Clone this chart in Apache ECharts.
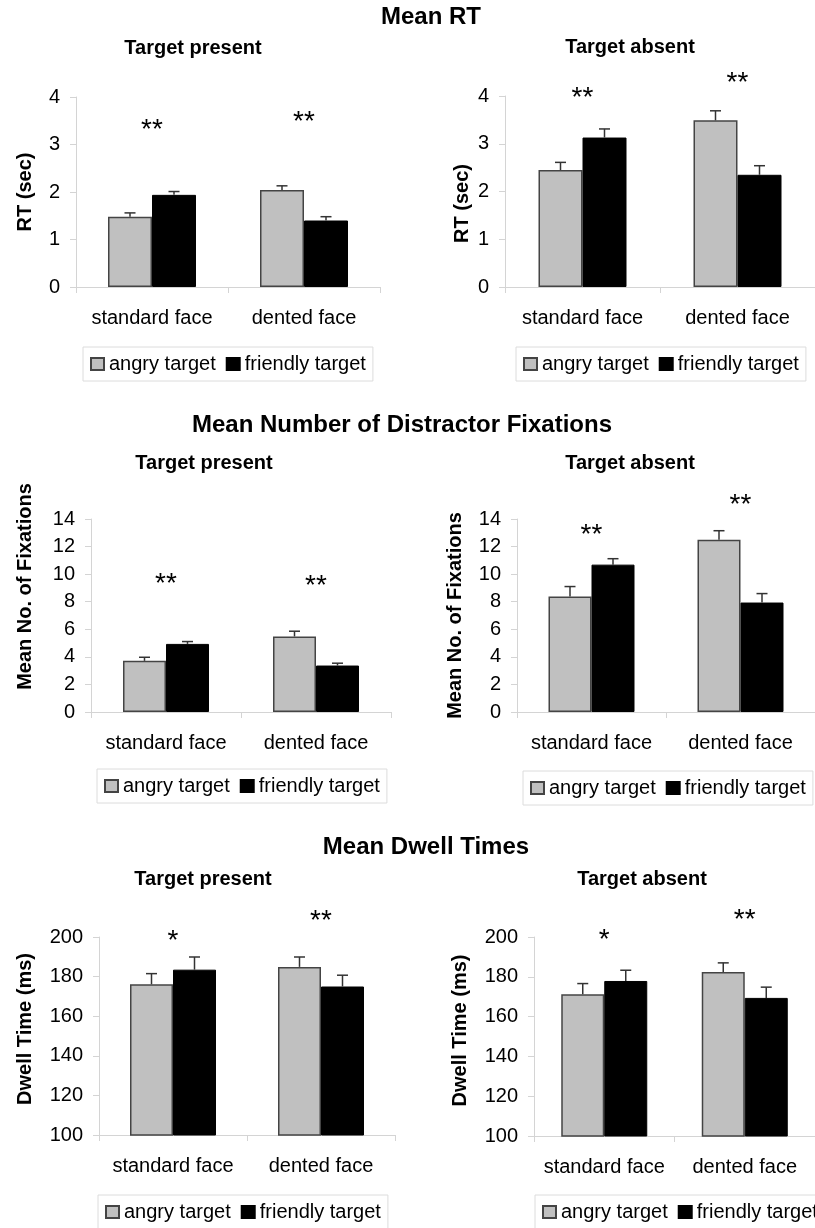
<!DOCTYPE html>
<html><head><meta charset="utf-8">
<script src="https://cdn.jsdelivr.net/npm/echarts@6/dist/echarts.min.js"></script>
<style>html,body{margin:0;padding:0;background:#fff}#c{width:815px;height:1228px}</style>
</head><body><div id="c"></div>
<script>
// ---------- data ----------
const categories = ['standard face', 'dented face'];
const seriesNames = ['angry target', 'friendly target'];

const mainTitles = ['Mean RT', 'Mean Number of Distractor Fixations', 'Mean Dwell Times'];
const subTitles = ['Target present', 'Target absent'];
const yNames = ['RT (sec)', 'Mean No. of Fixations', 'Dwell Time (ms)'];

const rtTicks = [0, 4, 1];          // min, max, interval
const fixTicks = [0, 14, 2];
const dwellTicks = [100, 200, 20];

// Mean RT
const rtPresentAngry = [1.48, 2.04];
const rtPresentFriendly = [1.94, 1.40];
const rtPresentAngrySE = [0.08, 0.09];
const rtPresentFriendlySE = [0.07, 0.08];
const rtAbsentAngry = [2.45, 3.49];
const rtAbsentFriendly = [3.13, 2.35];
const rtAbsentAngrySE = [0.16, 0.20];
const rtAbsentFriendlySE = [0.18, 0.19];

// Mean number of distractor fixations
const fixPresentAngry = [3.71, 5.48];
const fixPresentFriendly = [4.94, 3.37];
const fixPresentAngrySE = [0.26, 0.38];
const fixPresentFriendlySE = [0.17, 0.17];
const fixAbsentAngry = [8.37, 12.50];
const fixAbsentFriendly = [10.69, 7.94];
const fixAbsentAngrySE = [0.73, 0.65];
const fixAbsentFriendlySE = [0.43, 0.65];

// Mean dwell times
const dwellPresentAngry = [176.1, 184.9];
const dwellPresentFriendly = [183.5, 175.0];
const dwellPresentAngrySE = [5.4, 5.0];
const dwellPresentFriendlySE = [6.4, 5.7];
const dwellAbsentAngry = [171.2, 182.4];
const dwellAbsentFriendly = [177.9, 169.4];
const dwellAbsentAngrySE = [5.4, 4.6];
const dwellAbsentFriendlySE = [5.4, 5.4];

// significance markers: label and height (in axis units)
const rtPresentSig = ['**', '**'];   const rtPresentSigY = [3.45, 3.62];
const rtAbsentSig = ['**', '**'];    const rtAbsentSigY = [4.10, 4.42];
const fixPresentSig = ['**', '**'];  const fixPresentSigY = [9.75, 9.65];
const fixAbsentSig = ['**', '**'];   const fixAbsentSigY = [13.35, 15.50];
const dwellPresentSig = ['*', '**']; const dwellPresentSigY = [201.5, 211.5];
const dwellAbsentSig = ['*', '**'];  const dwellAbsentSigY = [202.0, 212.0];

// ---------- panels ----------
const panels = [
  {a: rtPresentAngry, f: rtPresentFriendly, aSE: rtPresentAngrySE, fSE: rtPresentFriendlySE, sig: rtPresentSig, sigY: rtPresentSigY, ticks: rtTicks, yName: yNames[0], sub: subTitles[0]},
  {a: rtAbsentAngry, f: rtAbsentFriendly, aSE: rtAbsentAngrySE, fSE: rtAbsentFriendlySE, sig: rtAbsentSig, sigY: rtAbsentSigY, ticks: rtTicks, yName: yNames[0], sub: subTitles[1]},
  {a: fixPresentAngry, f: fixPresentFriendly, aSE: fixPresentAngrySE, fSE: fixPresentFriendlySE, sig: fixPresentSig, sigY: fixPresentSigY, ticks: fixTicks, yName: yNames[1], sub: subTitles[0]},
  {a: fixAbsentAngry, f: fixAbsentFriendly, aSE: fixAbsentAngrySE, fSE: fixAbsentFriendlySE, sig: fixAbsentSig, sigY: fixAbsentSigY, ticks: fixTicks, yName: yNames[1], sub: subTitles[1]},
  {a: dwellPresentAngry, f: dwellPresentFriendly, aSE: dwellPresentAngrySE, fSE: dwellPresentFriendlySE, sig: dwellPresentSig, sigY: dwellPresentSigY, ticks: dwellTicks, yName: yNames[2], sub: subTitles[0]},
  {a: dwellAbsentAngry, f: dwellAbsentFriendly, aSE: dwellAbsentAngrySE, fSE: dwellAbsentFriendlySE, sig: dwellAbsentSig, sigY: dwellAbsentSigY, ticks: dwellTicks, yName: yNames[2], sub: subTitles[1]}
];

// ---------- layout (pixels) ----------
const layout = [
  {grid: {left: 76, top: 97, width: 304, height: 190}, bw: 44, nameGap: 41, namePad: [0, 0, 0, 0], legend: {left: 83, top: 347}, sub: {x: 193, y: 38}},
  {grid: {left: 505, top: 96, width: 310, height: 191}, bw: 44, nameGap: 33, namePad: [0, 24, 0, 0], legend: {left: 516, top: 347}, sub: {x: 630, y: 37}},
  {grid: {left: 91, top: 519, width: 300, height: 193}, bw: 43, nameGap: 56, namePad: [0, 0, 0, 58], legend: {left: 97, top: 769}, sub: {x: 204, y: 453}},
  {grid: {left: 517, top: 519, width: 300, height: 193}, bw: 43, nameGap: 52, namePad: [0, 0, 0, 0], legend: {left: 523, top: 771}, sub: {x: 630, y: 453}},
  {grid: {left: 99, top: 937, width: 296, height: 198}, bw: 43, nameGap: 64, namePad: [0, 0, 0, 14], legend: {left: 98, top: 1195}, sub: {x: 203, y: 869}},
  {grid: {left: 534, top: 937, width: 298, height: 199}, bw: 43, nameGap: 64, namePad: [0, 0, 0, 12], legend: {left: 535, top: 1195}, sub: {x: 642, y: 869}}
];
const mainTitlePos = [{x: 431, y: 5}, {x: 402, y: 413}, {x: 426, y: 835}];

const FONT = '"Liberation Sans", Arial, Helvetica, sans-serif';
const AXIS_GRAY = '#d4d4d4';

const option = {
  backgroundColor: '#fff',
  animation: false,
  textStyle: {fontFamily: FONT},
  title: [],
  legend: [],
  grid: [],
  xAxis: [],
  yAxis: [],
  series: []
};

mainTitles.forEach((t, i) => {
  option.title.push({text: t, left: mainTitlePos[i].x, top: mainTitlePos[i].y, textAlign: 'center', padding: 0,
    textStyle: {fontSize: 24, fontWeight: 'bold', color: '#000', fontFamily: FONT}});
});

function errRender(bw) {
  return function (params, api) {
    const cat = api.value(0), val = api.value(1), up = api.value(2), g = api.value(3);
    const base = api.coord([cat, val]);
    const top = api.coord([cat, up]);
    const x = base[0] + (g === 0 ? -bw / 2 : bw / 2);
    const cap = 5.5;
    const st = {stroke: '#333', lineWidth: 1.5};
    return {type: 'group', children: [
      {type: 'line', shape: {x1: x, y1: base[1], x2: x, y2: top[1]}, style: st},
      {type: 'line', shape: {x1: x - cap, y1: top[1], x2: x + cap, y2: top[1]}, style: st}
    ]};
  };
}

function sigRender(labels) {
  return function (params, api) {
    const p = api.coord([api.value(0), api.value(1)]);
    return {type: 'text', x: p[0], y: p[1] + 7, style: {text: labels[params.dataIndex], fontSize: 28,
      fontFamily: FONT, fill: '#000', align: 'center', verticalAlign: 'middle'}};
  };
}

panels.forEach((p, i) => {
  const L = layout[i];
  option.title.push({text: p.sub, left: L.sub.x, top: L.sub.y, textAlign: 'center', padding: 0,
    textStyle: {fontSize: 20, fontWeight: 'bold', color: '#000', fontFamily: FONT}});
  option.grid.push(Object.assign({containLabel: false}, L.grid));
  option.xAxis.push({
    type: 'category', gridIndex: i, data: categories, boundaryGap: true,
    axisLine: {show: true, lineStyle: {color: AXIS_GRAY, width: 1}},
    axisTick: {show: true, length: 6, alignWithLabel: false, interval: 0, lineStyle: {color: AXIS_GRAY}},
    axisLabel: {fontSize: 20, color: '#000', margin: 21, fontFamily: FONT, interval: 0, hideOverlap: false},
    splitLine: {show: false}
  });
  option.yAxis.push({
    type: 'value', gridIndex: i, min: p.ticks[0], max: p.ticks[1], interval: p.ticks[2],
    name: p.yName, nameLocation: 'middle', nameGap: L.nameGap,
    nameTextStyle: {fontSize: 20, fontWeight: 'bold', color: '#000', fontFamily: FONT, padding: L.namePad},
    axisLine: {show: true, lineStyle: {color: AXIS_GRAY, width: 1}},
    axisTick: {show: true, length: 6, lineStyle: {color: AXIS_GRAY}},
    axisLabel: {fontSize: 20, color: '#000', margin: 16, fontFamily: FONT},
    splitLine: {show: false}
  });
  option.series.push({
    type: 'bar', name: seriesNames[0], xAxisIndex: i, yAxisIndex: i, data: p.a,
    barWidth: L.bw, barGap: '0%',
    itemStyle: {color: '#c0c0c0', borderColor: '#444', borderWidth: 1.5}
  });
  option.series.push({
    type: 'bar', name: seriesNames[1], xAxisIndex: i, yAxisIndex: i, data: p.f,
    barWidth: L.bw, barGap: '0%',
    itemStyle: {color: '#000', borderColor: '#000', borderWidth: 1}
  });
  const errData = [];
  categories.forEach((c, k) => {
    errData.push([k, p.a[k], p.a[k] + p.aSE[k], 0]);
    errData.push([k, p.f[k], p.f[k] + p.fSE[k], 1]);
  });
  option.series.push({
    type: 'custom', xAxisIndex: i, yAxisIndex: i, clip: false, z: 5,
    renderItem: errRender(L.bw), data: errData, encode: {x: 0, y: [1, 2]}, silent: true
  });
  option.series.push({
    type: 'custom', xAxisIndex: i, yAxisIndex: i, clip: false, z: 6,
    renderItem: sigRender(p.sig), data: categories.map((c, k) => [k, p.sigY[k]]), encode: {x: 0, y: 1}, silent: true
  });
  option.legend.push({
    left: L.legend.left, top: L.legend.top, width: 320, data: seriesNames, orient: 'horizontal',
    itemWidth: 13, itemHeight: 12, itemGap: 10, padding: [7, 7, 7, 7],
    borderColor: '#dcdcdc', borderWidth: 1, selectedMode: false, icon: 'rect',
    textStyle: {fontSize: 20, color: '#000', fontFamily: FONT}
  });
});

const chart = echarts.init(document.getElementById('c'), null, {renderer: 'canvas'});
chart.setOption(option);
</script>
</body></html>
